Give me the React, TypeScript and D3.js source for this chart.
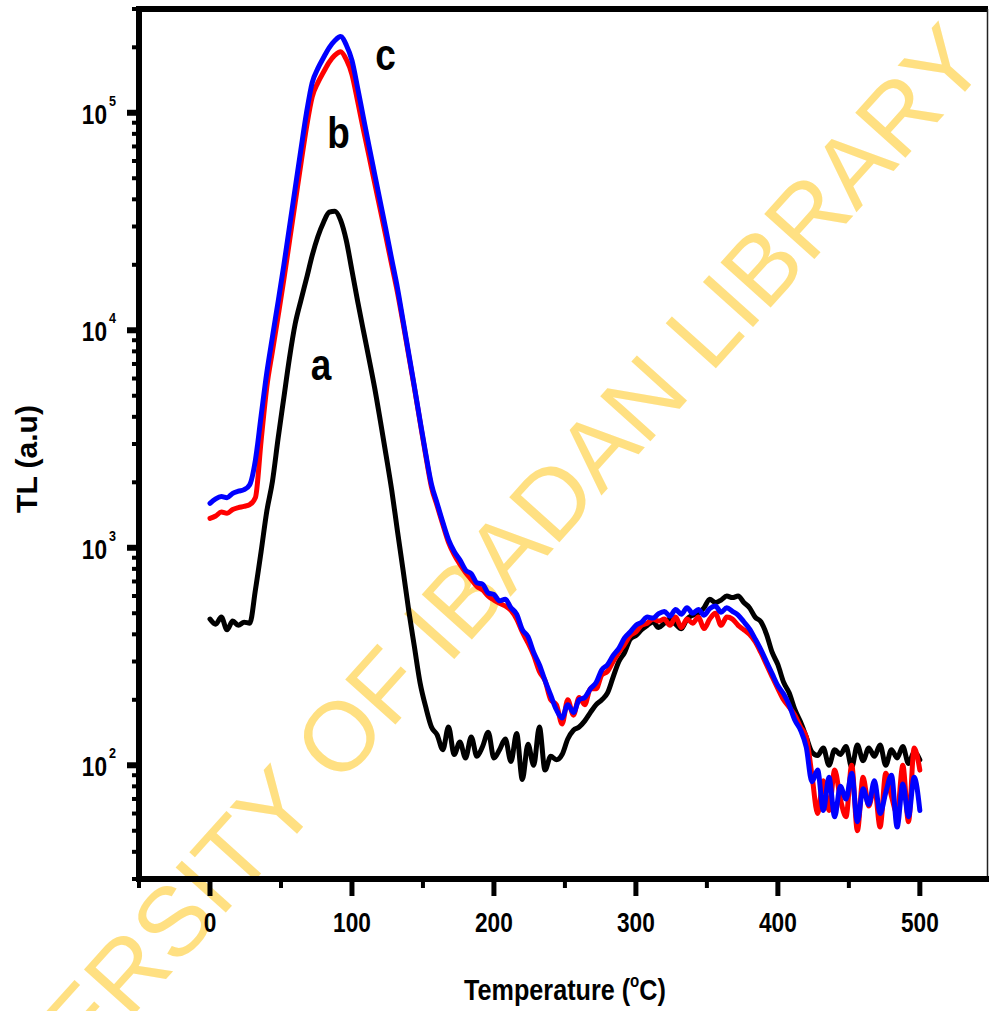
import React from "react";
import * as d3 from "d3";

const temps = [
  0, 4, 8, 12, 16, 20, 24, 28, 32, 36,
  40, 44, 48, 52, 56, 60, 64, 68, 72, 76,
  80, 84, 88, 92, 96, 100, 104, 108, 112, 116,
  120, 124, 128, 132, 136, 140, 144, 148, 152, 156,
  160, 164, 168, 172, 176, 180, 184, 188, 192, 196,
  200, 204, 208, 212, 216, 220, 224, 228, 232, 236,
  240, 244, 248, 252, 256, 260, 264, 268, 272, 276,
  280, 284, 288, 292, 296, 300, 304, 308, 312, 316,
  320, 324, 328, 332, 336, 340, 344, 348, 352, 356,
  360, 364, 368, 372, 376, 380, 384, 388, 392, 396,
  400, 404, 408, 412, 416, 420, 424, 428, 432, 436,
  440, 444, 448, 452, 456, 460, 464, 468, 472, 476,
  480, 484, 488, 492, 496, 500,
];

const seriesA = [
  470, 445, 480, 420, 460, 440, 455, 450, 640, 960,
  1470, 2020, 3190, 4890, 7470, 10700, 13700, 17300, 22100, 27000,
  31400, 34900, 35300, 32100, 25900, 18800, 13600, 10000, 7400, 5430,
  3830, 2670, 1840, 1200, 790, 514, 350, 239, 185, 150,
  138, 118, 150, 112, 128, 108, 135, 110, 122, 142,
  108, 118, 132, 104, 140, 86, 125, 100, 150, 95,
  110, 106, 112, 132, 145, 150, 160, 175, 190, 200,
  215, 255, 300, 330, 380, 395, 420, 440, 456, 430,
  450, 470, 445, 424, 470, 490, 500, 530, 580, 560,
  575, 600, 590, 600, 560, 530, 480, 457, 400, 330,
  290, 241, 215, 180, 158, 135, 115, 111, 120, 100,
  118, 112, 122, 98, 124, 105, 120, 110, 124, 100,
  118, 108, 122, 102, 115, 106,
];

const seriesB = [
  1365, 1400, 1460, 1440, 1500, 1530, 1550, 1580, 1700, 3100,
  5480, 8020, 11650, 17080, 25700, 38600, 58000, 86000, 118400, 137600,
  154000, 171000, 184000, 191000, 176000, 150000, 113000, 84000, 63300, 47500,
  35700, 26800, 20000, 15000, 10800, 7650, 5420, 3780, 2650, 1900,
  1560, 1280, 1060, 930, 840, 770, 715, 665, 640, 600,
  575, 555, 540, 515, 470, 410, 365, 320, 270, 245,
  200, 190, 155, 200, 170, 205, 190, 225, 225, 260,
  270, 300, 330, 360, 395, 410, 440, 450, 470, 460,
  470, 440, 480, 430, 470, 450, 480, 425, 470, 500,
  440, 480, 470, 440, 420, 400, 370, 330, 290, 255,
  225, 200, 185, 170, 150, 135, 90, 60, 85, 62,
  95, 70, 58, 100, 50, 88, 65, 80, 52, 92,
  72, 60, 100, 55, 120, 95,
];

const seriesC = [
  1600, 1680, 1720, 1700, 1780, 1820, 1850, 1950, 2530, 4030,
  6370, 9330, 13550, 19860, 29900, 44900, 67500, 100000, 137700, 160000,
  179500, 199500, 215000, 224000, 205000, 174000, 130000, 95500, 70300, 52200,
  38800, 28800, 21200, 15700, 11070, 7800, 5490, 3830, 2700, 1960,
  1600, 1310, 1090, 961, 880, 790, 760, 690, 680, 620,
  610, 570, 580, 530, 495, 420, 390, 330, 290, 245,
  210, 180, 165, 190, 175, 200, 205, 225, 240, 275,
  290, 320, 345, 385, 410, 440, 455, 480, 475, 498,
  510, 485, 520, 495, 530, 500, 520, 490, 525, 540,
  505, 530, 510, 490, 457, 424, 381, 340, 299, 263,
  232, 213, 189, 161, 145, 121, 84, 95, 62, 88,
  58, 80, 70, 92, 55, 78, 66, 85, 60, 75,
  90, 52, 82, 58, 88, 62,
];

const seriesNames = ["a", "b", "c"];
const seriesColors = ["#000000", "#ff0000", "#0000ff"];

const xMajorTicks = [0, 100, 200, 300, 400, 500];
const xMinorTicks = [-50, 50, 150, 250, 350, 450];
const yMajorTicks = [100, 1000, 10000, 100000];
const yMajorExp = ["2", "3", "4", "5"];

const xTitle = "Temperature (";
const yTitle = "TL (a.u)";
const watermark = "UNIVERSITY OF IBADAN LIBRARY";

const W = 989;
const H = 1011;
const FONT = "'Liberation Sans', Arial, Helvetica, sans-serif";
const SX = 0.84;

function CText(props: any) {
  const { x, y, anchor = "middle", size, sx = SX, children, fill = "#000" } = props;
  return (
    <text
      transform={`translate(${x},${y}) scale(${sx},1)`}
      textAnchor={anchor}
      fontSize={size}
      fontWeight="bold"
      fontFamily={FONT}
      fill={fill}
    >
      {children}
    </text>
  );
}

export default function App() {
  const x = d3.scaleLinear().domain([-50, 548]).range([139, 988]);
  const y = d3.scaleLog().domain([30, 300000]).range([879, 9]);

  const allSeries = [seriesA, seriesB, seriesC];
  const line = d3
    .line<number>()
    .x((_, i) => x(temps[i]))
    .y((d) => y(d))
    .curve(d3.curveMonotoneX);

  const yMinor = y
    .ticks()
    .filter((v) => !yMajorTicks.some((m) => Math.abs(m - v) < 1e-6));

  const left = x(-50);
  const bottom = y(30);
  const top = y(300000);

  const peakIdx = (arr: number[]) => arr.indexOf(Math.max(...arr));
  const ia = peakIdx(seriesA);
  const ib = peakIdx(seriesB);
  const ic = peakIdx(seriesC);

  return (
    <svg
      width={W}
      height={H}
      style={{ position: "absolute", left: 0, top: 0, background: "#fff" }}
    >
      <rect x={0} y={0} width={W} height={H} fill="#fff" />
      {/* watermark */}
      <text
        transform={`translate(990,64) rotate(-48)`}
        textAnchor="end"
        fontSize={98}
        fontFamily={FONT}
        fill="#ffe082"
      >
        {watermark}
      </text>

      {/* curves */}
      {allSeries.map((s, k) => (
        <path
          key={k}
          d={line(s) || ""}
          fill="none"
          stroke={seriesColors[k]}
          strokeWidth={5}
          strokeLinejoin="round"
          strokeLinecap="round"
        />
      ))}

      {/* curve labels */}
      <CText x={x(temps[ia]) - 14} y={380} size={44}>
        {seriesNames[0]}
      </CText>
      <CText x={x(temps[ib]) - 2} y={148} size={44}>
        {seriesNames[1]}
      </CText>
      <CText x={x(temps[ic]) + 45} y={70} size={44}>
        {seriesNames[2]}
      </CText>

      {/* frame */}
      <line x1={left} x2={988} y1={top} y2={top} stroke="#000" strokeWidth={6} />
      <line x1={987.5} x2={987.5} y1={top} y2={bottom} stroke="#222" strokeWidth={1.5} />
      <line x1={left} x2={left} y1={top - 3} y2={bottom + 3} stroke="#000" strokeWidth={6} />
      <line x1={left - 3} x2={989} y1={bottom} y2={bottom} stroke="#000" strokeWidth={6} />

      {/* x ticks */}
      {xMajorTicks.map((t) => (
        <g key={"xm" + t}>
          <line x1={x(t)} x2={x(t)} y1={bottom} y2={bottom + 17} stroke="#000" strokeWidth={5} />
          <CText x={x(t)} y={932} size={27}>
            {String(t)}
          </CText>
        </g>
      ))}
      {xMinorTicks.map((t) => (
        <line key={"xn" + t} x1={x(t)} x2={x(t)} y1={bottom} y2={bottom + 9} stroke="#000" strokeWidth={4} />
      ))}

      {/* y ticks */}
      {yMajorTicks.map((t, i) => (
        <g key={"ym" + t}>
          <line x1={left} x2={left - 12} y1={y(t)} y2={y(t)} stroke="#000" strokeWidth={6} />
          <CText x={107} y={y(t) + 11} size={27} anchor="end">
            10
          </CText>
          <CText x={109} y={y(t) - 7} size={15} anchor="start">
            {yMajorExp[i]}
          </CText>
        </g>
      ))}
      {yMinor.map((t) => (
        <line key={"yn" + t} x1={left} x2={left - 7} y1={y(t)} y2={y(t)} stroke="#000" strokeWidth={4} />
      ))}

      {/* axis titles */}
      <text
        transform={`translate(565,1000) scale(${SX},1)`}
        textAnchor="middle"
        fontSize={30}
        fontWeight="bold"
        fontFamily={FONT}
      >
        {xTitle}
        <tspan fontSize={18} dy={-13}>o</tspan>
        <tspan dy={13}>C)</tspan>
      </text>
      <text
        transform={`translate(37,459) rotate(-90)`}
        textAnchor="middle"
        fontSize={30}
        fontWeight="bold"
        fontFamily={FONT}
      >
        {yTitle}
      </text>
    </svg>
  );
}
